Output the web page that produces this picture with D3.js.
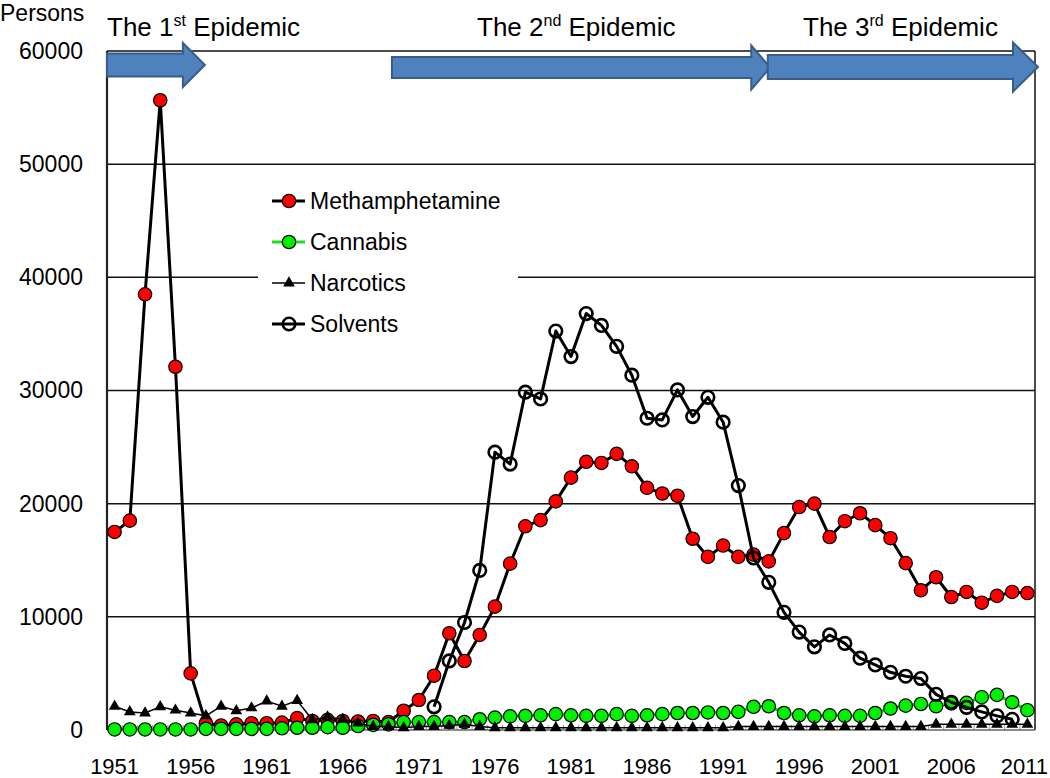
<!DOCTYPE html>
<html><head><meta charset="utf-8">
<script src="https://cdn.jsdelivr.net/npm/d3@7"></script>
<style>body{margin:0;background:#fff}svg{display:block;font-family:"Liberation Sans",Arial,sans-serif}</style>
</head><body><svg id="c" width="1050" height="778"></svg>
<script>
const years = [1951,1952,1953,1954,1955,1956,1957,1958,1959,1960,1961,1962,1963,1964,1965,1966,1967,1968,1969,1970,
1971,1972,1973,1974,1975,1976,1977,1978,1979,1980,1981,1982,1983,1984,1985,1986,1987,1988,1989,1990,
1991,1992,1993,1994,1995,1996,1997,1998,1999,2000,2001,2002,2003,2004,2005,2006,2007,2008,2009,2010,2011];
const xTickLabels = ["1951","1956","1961","1966","1971","1976","1981","1986","1991","1996","2001","2006","2011"];
const yTicks = [0,10000,20000,30000,40000,50000,60000];
const methamphetamine = [17500,18500,38500,55650,32100,5000,600,400,500,600,600,650,1050,800,900,800,750,800,700,1700,
2650,4800,8550,6100,8400,10900,14700,18000,18550,20200,22300,23700,23600,24400,23300,21400,20900,20700,16900,15300,
16300,15300,15500,14900,17400,19700,20000,17050,18450,19150,18100,16950,14750,12350,13500,11750,12200,11250,11850,12200,12100];
const cannabis = [50,50,50,50,50,50,100,100,100,100,100,150,200,200,250,200,350,450,500,700,
700,700,700,700,950,1100,1200,1250,1300,1400,1300,1250,1250,1400,1250,1300,1400,1500,1500,1550,
1500,1600,2050,2100,1500,1300,1200,1300,1250,1250,1500,1900,2150,2300,2100,2350,2400,2900,3100,2450,1750];
const narcotics = [2100,1600,1500,2050,1750,1500,1250,2100,1700,1950,2550,2100,2600,900,1150,950,600,300,300,200,
300,300,400,500,300,200,200,200,200,200,200,200,200,200,200,200,200,200,200,200,
200,300,300,300,300,300,300,300,300,300,300,300,300,300,500,500,500,500,500,500,500];
const solvents = [null,null,null,null,null,null,null,null,null,null,null,null,null,null,null,null,null,null,null,null,
null,2050,6100,9500,14100,24550,23500,29850,29250,35250,33000,36800,35750,33900,31350,27550,27400,30050,27700,29400,
27200,21600,15200,13050,10400,8650,7350,8400,7650,6350,5750,5100,4750,4550,3150,2450,2000,1600,1250,950,null];
const seriesNames = ["Methamphetamine","Cannabis","Narcotics","Solvents"];
const epidemics = [
  {label:"The 1", sup:"st", from:1951, to:1957},
  {label:"The 2", sup:"nd", from:1969, to:1994},
  {label:"The 3", sup:"rd", from:1994, to:2011}
];

const svg = d3.select("#c");
const L=107, R=1035, T=51, B=730;
const x = d3.scaleBand().domain(years).range([L,R]);
const xc = d => x(d)+x.bandwidth()/2;
const y = d3.scaleLinear().domain([0,60000]).range([B,T]);
const FS = 23;

// gridlines
svg.append("g").selectAll("line").data(yTicks.filter(v=>v>0)).join("line")
  .attr("x1",L).attr("x2",R).attr("y1",d=>y(d)).attr("y2",d=>y(d))
  .attr("stroke","#111").attr("stroke-width",1.5);
svg.append("line").attr("x1",R).attr("x2",R).attr("y1",T).attr("y2",B).attr("stroke","#111").attr("stroke-width",1.5);

// y axis
const yAxis = d3.axisLeft(y).tickValues(yTicks).tickSize(0).tickPadding(24).tickFormat(d=>String(d));
const ga = svg.append("g").attr("transform",`translate(${L},0)`).call(yAxis);
ga.select(".domain").remove();
ga.selectAll("text").attr("font-size",FS).attr("font-family","Liberation Sans, Arial").attr("fill","#000");
svg.append("line").attr("x1",L).attr("x2",L).attr("y1",T).attr("y2",B).attr("stroke","#222").attr("stroke-width",2.2);

// x axis
const xAxis = d3.axisBottom(x).tickValues(years.filter(v=>xTickLabels.includes(String(v)))).tickSize(0).tickPadding(28);
const gx = svg.append("g").attr("transform",`translate(0,${B})`).call(xAxis);
gx.select(".domain").remove();
gx.selectAll("text").attr("font-size",22).attr("font-family","Liberation Sans, Arial").attr("fill","#000");
gx.selectAll("text").filter(d=>d===2011).attr("dx",-3);
svg.append("g").selectAll("line").data(years.slice(1)).join("line")
  .attr("x1",d=>x(d)).attr("x2",d=>x(d)).attr("y1",B).attr("y2",B-5)
  .attr("stroke","#999").attr("stroke-width",1);
svg.append("line").attr("x1",L).attr("x2",R).attr("y1",B).attr("y2",B).attr("stroke","#666").attr("stroke-width",1.5);

svg.append("text").attr("x",0).attr("y",21).attr("font-size",FS).text("Persons");

// legend background
svg.append("rect").attr("x",258).attr("y",180).attr("width",260).attr("height",165).attr("fill","#fff");

const RAD = 6.7;
const tri = d3.symbol().type(d3.symbolTriangle).size(60);
function drawCircles(vals, fill, lineColor, lw, open){
  const g = svg.append("g");
  const line = d3.line().defined(d=>d!=null).x((d,i)=>xc(years[i])).y(d=>y(d));
  g.append("path").attr("d",line(vals)).attr("fill","none").attr("stroke",lineColor).attr("stroke-width",lw).attr("stroke-linejoin","round");
  const pts = vals.map((v,i)=>({v,yr:years[i]})).filter(d=>d.v!=null);
  g.selectAll("circle").data(pts).join("circle")
    .attr("cx",d=>xc(d.yr)).attr("cy",d=>y(d.v)).attr("r",open?6.3:RAD)
    .attr("fill",open?"none":fill).attr("stroke","#000").attr("stroke-width",open?2.6:1.2);
}
drawCircles(methamphetamine,"#ff0000","#000",3,false);
drawCircles(cannabis,"#00f000","#00dd00",3,false);
{
  const g = svg.append("g");
  const line = d3.line().x((d,i)=>xc(years[i])).y(d=>y(d));
  g.append("path").attr("d",line(narcotics)).attr("fill","none").attr("stroke","#000").attr("stroke-width",1.5);
  g.selectAll("path.m").data(narcotics.map((v,i)=>({v,yr:years[i]}))).join("path").attr("class","m")
    .attr("d",tri).attr("transform",d=>`translate(${xc(d.yr)},${y(d.v)})`).attr("fill","#000");
}
drawCircles(solvents,null,"#000",3,true);

// legend
const leg = svg.append("g");
const legY = [201,242,283,324];
seriesNames.forEach((n,i)=>{
  const yy = legY[i];
  const lc = i===1?"#22dd22":"#000";
  leg.append("line").attr("x1",272).attr("x2",305).attr("y1",yy).attr("y2",yy).attr("stroke",lc).attr("stroke-width",i===2?1.5:3);
  if(i===0||i===1) leg.append("circle").attr("cx",289).attr("cy",yy).attr("r",RAD).attr("fill",i===0?"#ff0000":"#00f000").attr("stroke","#000").attr("stroke-width",1.2);
  if(i===2) leg.append("path").attr("d",tri).attr("transform",`translate(289,${yy})`).attr("fill","#000");
  if(i===3) leg.append("circle").attr("cx",289).attr("cy",yy).attr("r",6.3).attr("fill","none").attr("stroke","#000").attr("stroke-width",2.6);
  leg.append("text").attr("x",310).attr("y",yy).attr("dy","0.35em").attr("font-size",FS).text(n);
});

// epidemic arrows
function arrowPath(x0,x1,hx,cy,bh,hh){
  return `M${x0},${cy-bh}L${hx},${cy-bh}L${hx},${cy-hh}L${x1},${cy}L${hx},${cy+hh}L${hx},${cy+bh}L${x0},${cy+bh}Z`;
}
const arrowSpec = [
  {x0:L, x1:xc(1957)-1, head:22, cy:65, bh:11.5, hh:22, tx:L},
  {x0:xc(1969)+3.5, x1:xc(1994)+1.5, head:19, cy:67.5, bh:10.5, hh:22, tx:477},
  {x0:xc(1994)-1, x1:R+3, head:25, cy:67, bh:12, hh:24.5, tx:803}
];
epidemics.forEach((e,i)=>{
  const a = arrowSpec[i];
  svg.append("path").attr("d",arrowPath(a.x0,a.x1,a.x1-a.head,a.cy,a.bh,a.hh))
    .attr("fill","#4f81bd").attr("stroke","#385d8a").attr("stroke-width",2);
  const t = svg.append("text").attr("x",a.tx).attr("y",36).attr("font-size",26);
  t.append("tspan").text(e.label);
  t.append("tspan").attr("font-size",16).attr("dy",-10).text(e.sup);
  t.append("tspan").attr("dy",10).text(" Epidemic");
});
</script></body></html>
